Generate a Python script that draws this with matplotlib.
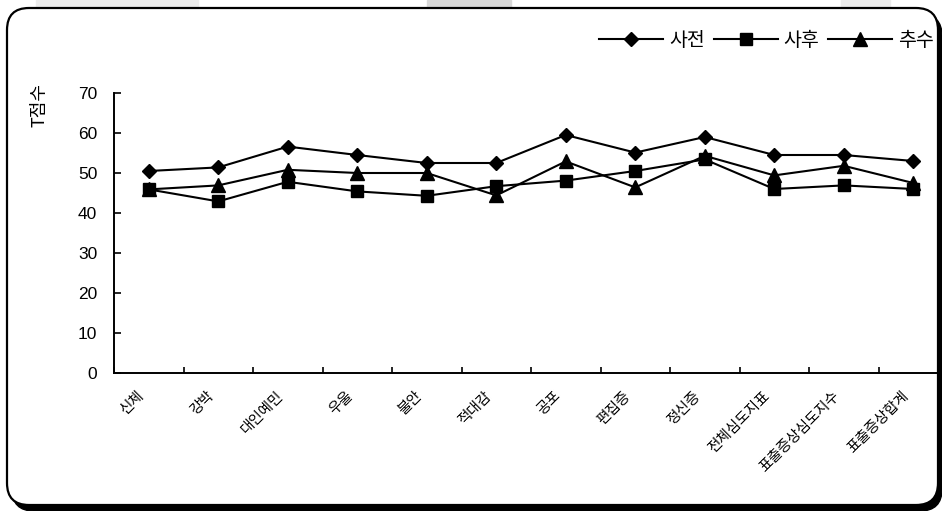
import matplotlib
matplotlib.use("Agg")
from matplotlib import pyplot as plt
from matplotlib.patches import FancyBboxPatch, Rectangle
import numpy as np

plt.rcParams["font.family"] = ["Liberation Sans", "Noto Sans CJK KR", "DejaVu Sans"]

categories = ["신체", "강박", "대인예민", "우울", "불안", "적대감", "공포",
              "편집증", "정신증", "전체심도지표", "표출증상심도지수", "표출증상합계"]
pre = [50.5, 51.4, 56.6, 54.5, 52.5, 52.5, 59.5, 55.1, 59.0, 54.5, 54.5, 53.0]
post = [45.9, 42.9, 47.8, 45.4, 44.3, 46.7, 48.1, 50.5, 53.4, 46.0, 46.9, 46.0]
follow = [45.9, 46.9, 50.8, 50.0, 50.0, 44.4, 52.9, 46.4, 54.3, 49.4, 51.8, 47.5]
series_names = ["사전", "사후", "추수"]
yticks = [0, 10, 20, 30, 40, 50, 60, 70]

W, H = 942, 511
fig = plt.figure(figsize=(W / 100, H / 100), dpi=100)

# background layer in pixel coords (y down)
bg = fig.add_axes([0, 0, 1, 1], zorder=0)
bg.set_xlim(0, W)
bg.set_ylim(H, 0)
bg.axis("off")

# faint page artifacts at the top
for x0, x1, c in [(36, 198, "#ececec"), (427, 511, "#d8d8d8"), (841, 890, "#ececec")]:
    bg.add_patch(Rectangle((x0, 0), x1 - x0, 12, color=c, zorder=0))

# rounded frame with shadow
bg.add_patch(FancyBboxPatch((12, 14), 930, 497,
                            boxstyle="round,pad=0,rounding_size=22",
                            facecolor="black", edgecolor="black", zorder=1))
bg.add_patch(FancyBboxPatch((7, 8), 931, 497,
                            boxstyle="round,pad=0,rounding_size=22",
                            facecolor="white", edgecolor="black", linewidth=1.6, zorder=2))

ax = fig.add_axes([114 / W, (H - 373) / H, 834 / W, 280 / H], zorder=3)
ax.patch.set_alpha(0)
x = np.arange(len(categories))

ax.plot(x, pre, color="black", lw=1.5, marker="D", ms=7.5, label=series_names[0], clip_on=False)
ax.plot(x, post, color="black", lw=1.5, marker="s", ms=9, label=series_names[1], clip_on=False)
ax.plot(x, follow, color="black", lw=1.5, marker="^", ms=9.5, label=series_names[2], clip_on=False)

ax.set_xlim(-0.5, len(categories) - 0.5)
ax.set_ylim(0, 70)
ax.set_yticks(yticks)
ax.tick_params(axis="y", direction="in", length=5, width=1.2, labelsize=12.5, pad=12)
ax.set_xticks(np.arange(len(categories) + 1) - 0.5)
ax.set_xticklabels([])
ax.tick_params(axis="x", direction="in", length=4, width=1.2)
for i, name in enumerate(categories):
    ax.text(i - 0.17, -4.0, name, rotation=45, ha="right", va="top",
            rotation_mode="anchor", fontsize=10.5, family=["Noto Sans CJK KR"])

for s in ["top", "right"]:
    ax.spines[s].set_visible(False)
ax.spines["left"].set_linewidth(1.4)
ax.spines["bottom"].set_linewidth(1.4)

fig.text(40 / W, 1 - 105 / H, "T점수", rotation=90, ha="center", va="center",
         fontsize=13, family=["Noto Sans CJK KR"], zorder=4)

leg = ax.legend(loc="center right", bbox_to_anchor=(934 / W, 1 - 40 / H),
                bbox_transform=fig.transFigure, ncol=3, frameon=False,
                handlelength=3.3, handletextpad=0.3, columnspacing=0.45,
                borderpad=0, borderaxespad=0,
                prop={"family": "Noto Sans CJK KR", "size": 14})

fig.savefig("out.png", dpi=100)
